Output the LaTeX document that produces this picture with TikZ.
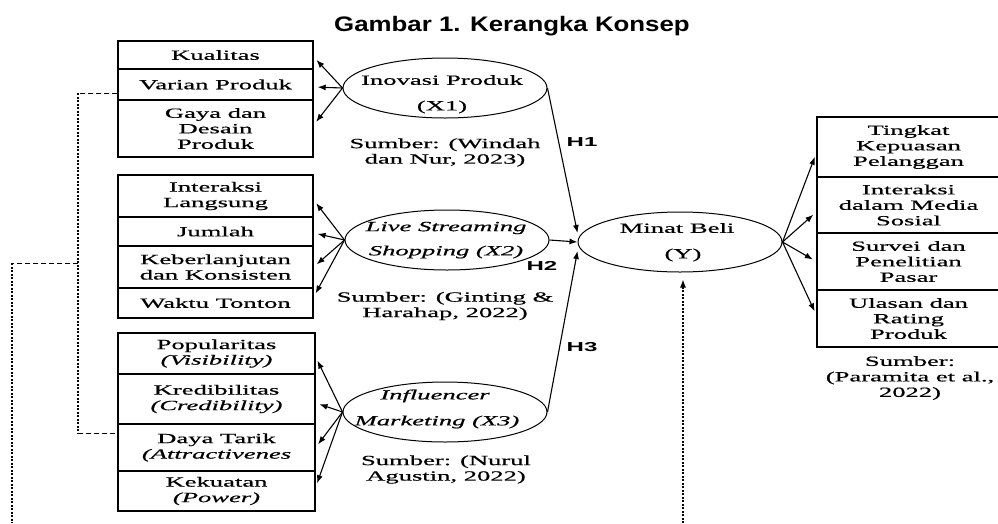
\documentclass[tikz,border=0pt]{standalone}
\usepackage{fontspec}
\newfontfamily\serw[FakeStretch=1.9,FakeBold=0.6]{Liberation Serif}
\newfontfamily\titw[FakeStretch=1.23]{Liberation Sans}
\newfontfamily\hw[FakeStretch=1.85]{Liberation Sans}
\usetikzlibrary{shapes.geometric,arrows.meta}
\begin{document}
\begin{tikzpicture}[x=1pt,y=-1pt,
  every node/.style={font=\serw\fontsize{14}{15.5}\selectfont, inner sep=0pt},
  rowbox/.style={draw, line width=1.4pt, align=center, minimum width=195pt},
  rowboxw/.style={rowbox, minimum width=197pt},
  rowboxr/.style={rowbox, minimum width=183pt},
  ell/.style={draw, ellipse, line width=1pt, minimum width=204pt, minimum height=60pt},
  lbl/.style={align=center},
  hlbl/.style={font=\hw\bfseries\fontsize{13}{15}\selectfont},
  arr/.style={line width=1.1pt, -{Latex[length=8pt,width=6pt]}},
  arrl/.style={arr, shorten >=4pt},
  dashh/.style={line width=1pt, dash pattern=on 5pt off 3pt},
  dashv/.style={line width=1.2pt, dash pattern=on 2pt off 1.5pt}]
\useasboundingbox (0,0) rectangle (998,523);

% title
\node[font=\titw\bfseries\fontsize{21}{25}\selectfont] (title) at (512,26) {Gambar 1. Kerangka Konsep};

% group 1
\node[rowbox, minimum height=28pt] (kual) at (215.5,55) {Kualitas};
\node[rowbox, minimum height=31pt] (vp) at (215.5,84.5) {Varian Produk};
\node[rowbox, minimum height=57pt] (gdp) at (215.5,128.5) {Gaya dan\\Desain\\Produk};

% group 2
\node[rowbox, minimum height=42pt] (il) at (215.5,196) {Interaksi\\Langsung};
\node[rowbox, minimum height=29pt] (jml) at (215.5,231.5) {Jumlah};
\node[rowbox, minimum height=42pt] (kdk) at (215.5,267) {Keberlanjutan\\dan Konsisten};
\node[rowbox, minimum height=30pt] (wt) at (215.5,303) {Waktu Tonton};

% group 3
\node[rowboxw, minimum height=41pt] (pop) at (216.5,353.5) {Popularitas\\\textit{(Visibility)}};
\node[rowboxw, minimum height=50pt] (kred) at (216.5,399) {Kredibilitas\\\textit{(Credibility)}};
\node[rowboxw, minimum height=47pt] (dt) at (216.5,447.5) {Daya Tarik\\\textit{(Attractivenes}};
\node[rowboxw, minimum height=40pt] (kek) at (216.5,491) {Kekuatan\\\textit{(Power)}};

% right group
\node[rowboxr, minimum height=60pt] (tkp) at (908.5,147) {Tingkat\\Kepuasan\\Pelanggan};
\node[rowboxr, minimum height=56pt] (ims) at (908.5,205) {Interaksi\\dalam Media\\Sosial};
\node[rowboxr, minimum height=57pt] (spp) at (908.5,261.5) {Survei dan\\Penelitian\\Pasar};
\node[rowboxr, minimum height=57pt] (urp) at (908.5,318.5) {Ulasan dan\\Rating\\Produk};

% ellipses
\node[ell] (x1) at (445,88) {};
\node[ell] (x2) at (447,240) {};
\node[ell] (x3) at (445,412) {};
\node[ell] (y) at (680,242) {};

\node (x1a) at (442,80) {Inovasi Produk};
\node (x1b) at (442,107) {(X1)};
\node (x2a) at (446,228) {\itshape Live Streaming};
\node (x2b) at (446,252) {\itshape Shopping (X2)};
\node (x3a) at (435,396) {\itshape Influencer};
\node (x3b) at (437,422) {\itshape Marketing (X3)};
\node (ya) at (677,228) {Minat Beli};
\node (yb) at (683,255) {(Y)};

% sources
\node[lbl] (s1) at (445,152.5) {Sumber: (Windah\\dan Nur, 2023)};
\node[lbl] (s2) at (445,306) {Sumber: (Ginting \&\\Harahap, 2022)};
\node[lbl] (s3) at (446,469.5) {Sumber: (Nurul\\Agustin, 2022)};
\node[lbl] (s4) at (910,378) {Sumber:\\(Paramita et al.,\\2022)};

% hypothesis labels
\node[hlbl] (h1) at (582,142.5) {H1};
\node[hlbl] (h2) at (542,266) {H2};
\node[hlbl] (h3) at (582,347) {H3};

% arrows X1
\draw[arrl] (x1.west) -- ([yshift=-2pt]kual.east);
\draw[arrl] (x1.west) -- ([yshift=-2.5pt]vp.east);
\draw[arrl] (x1.west) -- ([yshift=3.5pt]gdp.east);
% arrows X2
\draw[arrl] (x2.west) -- ([yshift=-4pt]il.east);
\draw[arrl] (x2.west) -- ([yshift=-1.5pt]jml.east);
\draw[arrl] (x2.west) -- (kdk.east);
\draw[arrl] (x2.west) -- ([yshift=6pt]wt.east);
% arrows X3
\draw[arrl] (x3.west) -- ([yshift=-3.5pt]pop.east);
\draw[arrl] (x3.west) -- ([yshift=-4pt]kred.east);
\draw[arrl] (x3.west) -- (dt.east);
\draw[arrl] (x3.west) -- ([yshift=4pt]kek.east);
% arrows Y
\draw[arrl] (y.east) -- ([yshift=-6pt]tkp.west);
\draw[arrl] (y.east) -- ([yshift=-7pt]ims.west);
\draw[arrl] (y.east) -- (spp.west);
\draw[arrl] (y.east) -- ([yshift=3.5pt]urp.west);
% hypotheses
\draw[arr] (x1.east) -- ([yshift=9pt]y.west);
\draw[arr] (x2.east) -- (y.west);
\draw[arr] (x3.east) -- ([yshift=-9pt]y.west);

% dashed connectors
\coordinate (c1) at (78,93);
\coordinate (c2) at (78,433);
\coordinate (c3) at (78,263);
\coordinate (c4) at (12,263);
\coordinate (c5) at (12,523);
\draw[dashh] ([yshift=-8.5pt]vp.west) -- (c1);
\draw[dashv] (c1) -- (c2);
\draw[dashh] (c2) -- ([yshift=14.5pt]dt.west);
\draw[dashh] (c3) -- (c4);
\draw[dashv] (c4) -- (c5);

\coordinate (dbot) at (683,523);
\draw[dashv, -{Latex[length=8pt,width=6pt]}, shorten >=7pt] (dbot) -- (dbot |- y.south);
\end{tikzpicture}
\end{document}
